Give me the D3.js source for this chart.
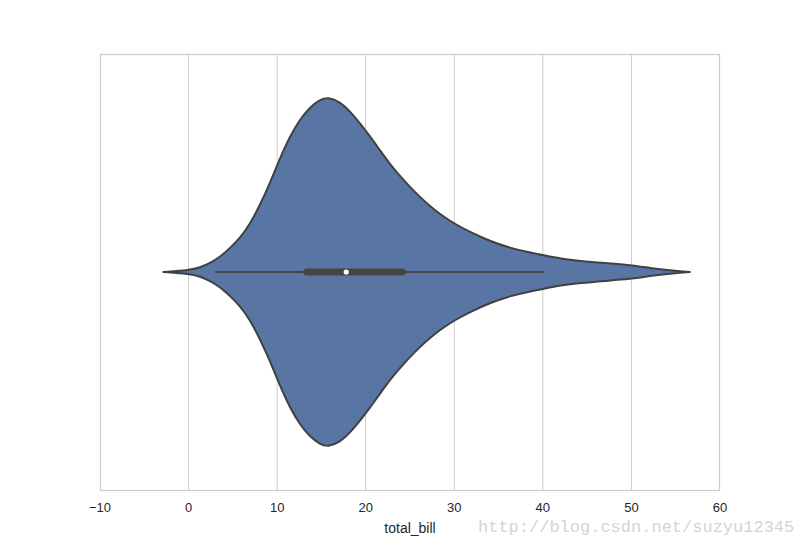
<!DOCTYPE html>
<html>
<head>
<meta charset="utf-8">
<script src="https://cdn.jsdelivr.net/npm/d3@7"></script>
<style>
  html, body { margin: 0; padding: 0; background: #fff; }
  svg { display: block; }
</style>
</head>
<body>
<svg id="chart" width="800" height="546"></svg>
<script>
// ---- data ----
const xTicks = [-10, 0, 10, 20, 30, 40, 50, 60];
const category = ["total_bill"];
// KDE outline: total_bill grid and relative density (1 = widest)
const gridValues = [-2.85, 0.16, 1.29, 2.42, 3.55, 4.68, 5.81, 6.93, 8.06, 9.19, 10.32, 11.45, 12.58, 13.71, 14.84, 15.74, 17.1, 18.22, 19.35, 20.48, 21.6, 22.74, 23.87, 25.0, 26.13, 27.26, 28.39, 30.08, 31.77, 34.03, 36.29, 38.55, 40.24, 41.94, 44.2, 47.0, 49.84, 52.1, 54.35, 56.6];
const densityValues = [0, 0.0114, 0.026, 0.050, 0.086, 0.137, 0.194, 0.274, 0.383, 0.509, 0.651, 0.777, 0.874, 0.943, 0.986, 1.0, 0.974, 0.92, 0.851, 0.777, 0.697, 0.617, 0.549, 0.486, 0.429, 0.377, 0.331, 0.274, 0.229, 0.177, 0.137, 0.111, 0.094, 0.077, 0.063, 0.051, 0.040, 0.023, 0.009, 0];
// box statistics
const q1 = 13.35, median = 17.8, q3 = 24.13;
const whiskerLow = 3.07, whiskerHigh = 40.17;

// ---- layout ----
const svg = d3.select("#chart");
const margin = { left: 100, right: 80, top: 54, bottom: 55 };
const W = 800, H = 546;
const plotW = W - margin.left - margin.right;
const plotH = H - margin.top - margin.bottom;

const x = d3.scaleLinear().domain([-10, 60]).range([margin.left, margin.left + plotW]);
const yBand = d3.scaleBand().domain(category).range([margin.top, margin.top + plotH]);
const cy = yBand(category[0]) + yBand.bandwidth() / 2 - 0.5;
const w = d3.scaleLinear().domain([0, 1]).range([0, yBand.bandwidth() * 0.8 / 2]);

// grid
svg.append("g").selectAll("line").data(xTicks.slice(1, -1)).join("line")
  .attr("x1", d => x(d)).attr("x2", d => x(d))
  .attr("y1", margin.top).attr("y2", margin.top + plotH)
  .attr("stroke", "#cccccc").attr("stroke-width", 1);

// frame
svg.append("rect")
  .attr("x", margin.left + 0.5).attr("y", margin.top + 0.5)
  .attr("width", plotW - 1).attr("height", plotH - 1)
  .attr("fill", "none").attr("stroke", "#cccccc").attr("stroke-width", 1.25);

// violin
const pts = gridValues.map((g, i) => ({ g, d: densityValues[i] }));
const area = d3.area()
  .x(p => x(p.g))
  .y0(p => cy + w(p.d))
  .y1(p => cy - w(p.d))
  .curve(d3.curveBasis);
svg.append("path").datum(pts)
  .attr("d", area)
  .attr("fill", "#5875a4")
  .attr("stroke", "#414141")
  .attr("stroke-width", 2)
  .attr("stroke-linejoin", "round");

// whisker
svg.append("line")
  .attr("x1", x(whiskerLow)).attr("x2", x(whiskerHigh))
  .attr("y1", cy).attr("y2", cy)
  .attr("stroke", "#454545").attr("stroke-width", 2);
// box
svg.append("line")
  .attr("x1", x(q1)).attr("x2", x(q3))
  .attr("y1", cy).attr("y2", cy)
  .attr("stroke", "#454545").attr("stroke-width", 7)
  .attr("stroke-linecap", "round");
// median
svg.append("circle")
  .attr("cx", x(median)).attr("cy", cy).attr("r", 2.6)
  .attr("fill", "#ffffff");

// x axis tick labels
svg.append("g").selectAll("text").data(xTicks).join("text")
  .attr("x", d => x(d)).attr("y", margin.top + plotH + 21)
  .attr("text-anchor", "middle")
  .attr("font-family", "Liberation Sans, Arial, sans-serif")
  .attr("font-size", 13)
  .attr("fill", "#262626")
  .text(d => d < 0 ? "\u2212" + Math.abs(d) : String(d));

// axis label
svg.append("text")
  .attr("x", margin.left + plotW / 2).attr("y", margin.top + plotH + 42)
  .attr("text-anchor", "middle")
  .attr("font-family", "Liberation Sans, Arial, sans-serif")
  .attr("font-size", 14)
  .attr("fill", "#262626")
  .text("total_bill");

// watermark
svg.append("text")
  .attr("x", 478).attr("y", 532)
  .attr("font-family", "Liberation Mono, monospace")
  .attr("font-size", 17)
  .attr("fill", "#d4d4d4")
  .text("http://blog.csdn.net/suzyu12345");
</script>
</body>
</html>
